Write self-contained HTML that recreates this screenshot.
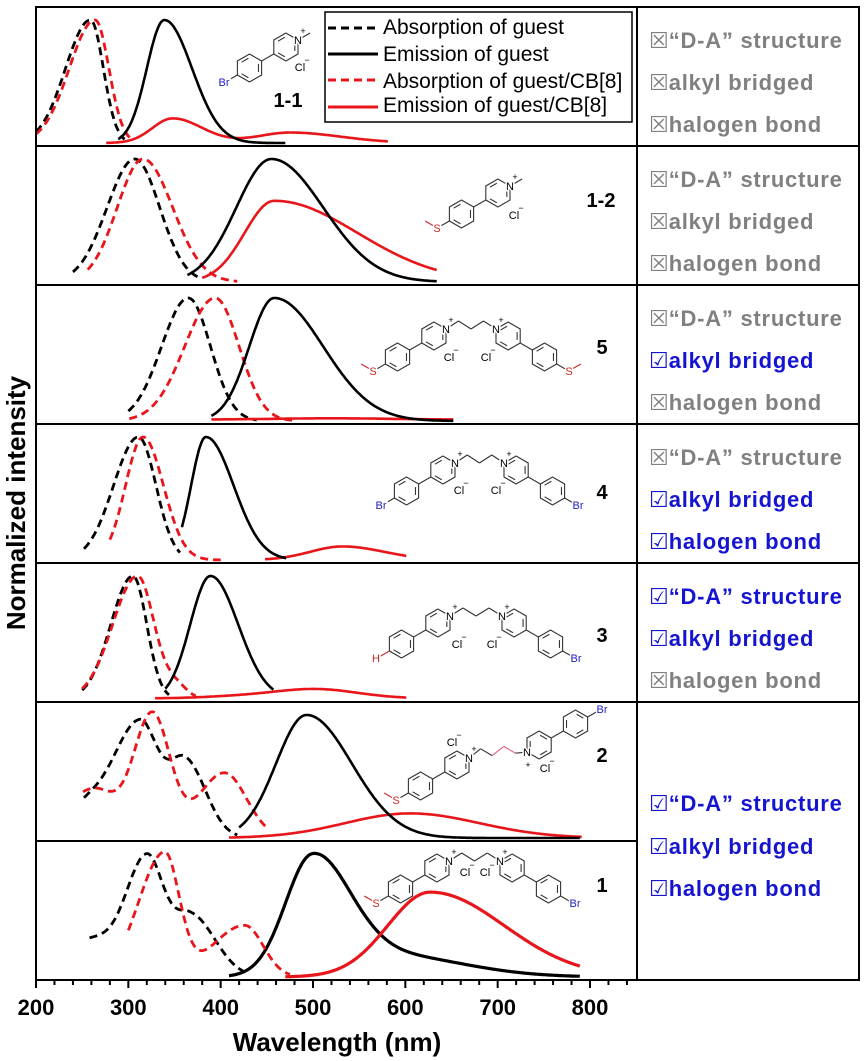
<!DOCTYPE html>
<html><head><meta charset="utf-8">
<style>
html,body{margin:0;padding:0;background:#fff;}
svg{display:block;}
.tk{font-family:"Liberation Sans",sans-serif;font-weight:bold;font-size:22px;text-anchor:middle;fill:#000;}
.lg{font-family:"Liberation Sans",sans-serif;font-size:21px;fill:#000;}
.t{font-family:"Liberation Sans",sans-serif;font-weight:bold;font-size:22px;letter-spacing:0.75px;}
.gr{fill:#808080;}
.bl{fill:#1414d2;}
.bx{font-family:"DejaVu Sans",sans-serif;font-weight:normal;font-size:22px;letter-spacing:0;}
.num{font-family:"Liberation Sans",sans-serif;font-weight:bold;font-size:20px;text-anchor:middle;fill:#000;}
.at{font-family:"Liberation Sans",sans-serif;font-size:11px;text-anchor:middle;stroke:#fff;stroke-width:3px;paint-order:stroke;}
.sp{font-family:"Liberation Sans",sans-serif;font-size:9px;text-anchor:middle;fill:#000;}
</style></head>
<body>
<svg width="866" height="1061" viewBox="0 0 866 1061" xmlns="http://www.w3.org/2000/svg">
<rect width="866" height="1061" fill="#fff"/>
<g id="curves"></g>
<g id="mols"></g>

<!-- frame -->
<g stroke="#000" stroke-width="2" fill="none">
<path d="M36,7H859V980H36Z"/>
<path d="M637,7V980"/>
<path d="M36,146H859M36,285H859M36,424H859M36,563H859M36,702H859M36,841H637"/>
</g>
<g id="ticks" stroke="#000" stroke-width="2"></g>

<!-- tick labels -->
<text class="tk" x="36" y="1015">200</text>
<text class="tk" x="128.3" y="1015">300</text>
<text class="tk" x="220.7" y="1015">400</text>
<text class="tk" x="313" y="1015">500</text>
<text class="tk" x="405.3" y="1015">600</text>
<text class="tk" x="497.7" y="1015">700</text>
<text class="tk" x="590" y="1015">800</text>
<text x="337" y="1051" font-family="Liberation Sans, sans-serif" font-weight="bold" font-size="26" text-anchor="middle">Wavelength (nm)</text>
<text transform="translate(25,503) rotate(-90)" font-family="Liberation Sans, sans-serif" font-weight="bold" font-size="26" text-anchor="middle">Normalized intensity</text>

<!-- legend -->
<rect x="325" y="12" width="307" height="110" fill="#fff" stroke="#000" stroke-width="1.5"/>
<g stroke-width="3" fill="none">
<path d="M328,28H378" stroke="#000" stroke-dasharray="8,5"/>
<path d="M328,54H378" stroke="#000"/>
<path d="M328,80H378" stroke="#e8151b" stroke-dasharray="8,5"/>
<path d="M328,107H378" stroke="#e8151b"/>
</g>
<text class="lg" x="383" y="34">Absorption of guest</text>
<text class="lg" x="383" y="61">Emission of guest</text>
<text class="lg" x="383" y="88">Absorption of guest/CB[8]</text>
<text class="lg" x="383" y="112">Emission of guest/CB[8]</text>

<!-- compound numbers -->
<text class="num" x="288" y="107">1-1</text>
<text class="num" x="601" y="207">1-2</text>
<text class="num" x="602" y="354">5</text>
<text class="num" x="602" y="499">4</text>
<text class="num" x="602" y="642">3</text>
<text class="num" x="602" y="762">2</text>
<text class="num" x="602" y="892">1</text>

<!-- atom labels -->
<g>
<!-- 1-1 -->
<text class="at" x="224" y="86" fill="#2020c0">Br</text>
<text class="at" x="298" y="44" fill="#000">N</text><text class="sp" x="303" y="34">+</text>
<text class="at" x="300" y="71" fill="#000">Cl</text><text class="sp" x="307" y="63">−</text>
<!-- 1-2 -->
<text class="at" x="437" y="232" fill="#d02828">S</text>
<text class="at" x="510" y="190" fill="#000">N</text><text class="sp" x="515" y="180">+</text>
<text class="at" x="514" y="219" fill="#000">Cl</text><text class="sp" x="521" y="211">−</text>
<!-- 5 -->
<text class="at" x="373" y="375" fill="#d02828">S</text>
<text class="at" x="569" y="375" fill="#d02828">S</text>
<text class="at" x="446" y="333" fill="#000">N</text><text class="sp" x="451" y="323">+</text>
<text class="at" x="496" y="333" fill="#000">N</text><text class="sp" x="501" y="323">+</text>
<text class="at" x="449" y="361" fill="#000">Cl</text><text class="sp" x="456" y="353">−</text>
<text class="at" x="486" y="361" fill="#000">Cl</text><text class="sp" x="493" y="353">−</text>
<!-- 4 -->
<text class="at" x="381" y="509" fill="#2020c0">Br</text>
<text class="at" x="578" y="509" fill="#2020c0">Br</text>
<text class="at" x="455" y="467" fill="#000">N</text><text class="sp" x="460" y="457">+</text>
<text class="at" x="504" y="467" fill="#000">N</text><text class="sp" x="509" y="457">+</text>
<text class="at" x="459" y="494" fill="#000">Cl</text><text class="sp" x="466" y="486">−</text>
<text class="at" x="496" y="494" fill="#000">Cl</text><text class="sp" x="503" y="486">−</text>
<!-- 3 -->
<text class="at" x="376" y="662" fill="#d02828">H</text>
<text class="at" x="576" y="662" fill="#2020c0">Br</text>
<text class="at" x="450" y="620" fill="#000">N</text><text class="sp" x="455" y="610">+</text>
<text class="at" x="502" y="620" fill="#000">N</text><text class="sp" x="507" y="610">+</text>
<text class="at" x="457" y="648" fill="#000">Cl</text><text class="sp" x="464" y="640">−</text>
<text class="at" x="492" y="648" fill="#000">Cl</text><text class="sp" x="499" y="640">−</text>
<!-- 2 -->
<text class="at" x="396" y="804" fill="#d02828">S</text>
<text class="at" x="602" y="713" fill="#2020c0">Br</text>
<text class="at" x="469" y="762" fill="#000">N</text><text class="sp" x="474" y="752">+</text>
<text class="at" x="527" y="756" fill="#000">N</text><text class="sp" x="528" y="768">+</text>
<text class="at" x="452" y="746" fill="#000">Cl</text><text class="sp" x="459" y="738">−</text>
<text class="at" x="545" y="772" fill="#000">Cl</text><text class="sp" x="552" y="764">−</text>
<!-- 1 -->
<text class="at" x="376" y="907" fill="#d02828">S</text>
<text class="at" x="575" y="907" fill="#2020c0">Br</text>
<text class="at" x="449" y="865" fill="#000">N</text><text class="sp" x="454" y="855">+</text>
<text class="at" x="500" y="865" fill="#000">N</text><text class="sp" x="505" y="855">+</text>
<text class="at" x="465" y="876" fill="#000">Cl</text><text class="sp" x="472" y="868">−</text>
<text class="at" x="485" y="876" fill="#000">Cl</text><text class="sp" x="492" y="868">−</text>
</g>

<!-- table text -->
<text class="t gr" x="649" y="48"><tspan class="bx">☒</tspan>“D-A” structure</text>
<text class="t gr" x="649" y="90"><tspan class="bx">☒</tspan>alkyl bridged</text>
<text class="t gr" x="649" y="132"><tspan class="bx">☒</tspan>halogen bond</text>

<text class="t gr" x="649" y="187"><tspan class="bx">☒</tspan>“D-A” structure</text>
<text class="t gr" x="649" y="229"><tspan class="bx">☒</tspan>alkyl bridged</text>
<text class="t gr" x="649" y="271"><tspan class="bx">☒</tspan>halogen bond</text>

<text class="t gr" x="649" y="326"><tspan class="bx">☒</tspan>“D-A” structure</text>
<text class="t bl" x="649" y="368"><tspan class="bx">☑</tspan>alkyl bridged</text>
<text class="t gr" x="649" y="410"><tspan class="bx">☒</tspan>halogen bond</text>

<text class="t gr" x="649" y="465"><tspan class="bx">☒</tspan>“D-A” structure</text>
<text class="t bl" x="649" y="507"><tspan class="bx">☑</tspan>alkyl bridged</text>
<text class="t bl" x="649" y="549"><tspan class="bx">☑</tspan>halogen bond</text>

<text class="t bl" x="649" y="604"><tspan class="bx">☑</tspan>“D-A” structure</text>
<text class="t bl" x="649" y="646"><tspan class="bx">☑</tspan>alkyl bridged</text>
<text class="t gr" x="649" y="688"><tspan class="bx">☒</tspan>halogen bond</text>

<text class="t bl" x="649" y="811"><tspan class="bx">☑</tspan>“D-A” structure</text>
<text class="t bl" x="649" y="854"><tspan class="bx">☑</tspan>alkyl bridged</text>
<text class="t bl" x="649" y="896"><tspan class="bx">☑</tspan>halogen bond</text>
</svg>

<script>
(function(){
var NS='http://www.w3.org/2000/svg';
function X(nm){return 36+(nm-200)*0.92333;}
function g(x,m,sl,sr){var s=x<m?sl:sr;return Math.exp(-(x-m)*(x-m)/(2*s*s));}
function el(tag,attrs,parent){var e=document.createElementNS(NS,tag);for(var k in attrs)e.setAttribute(k,attrs[k]);parent.appendChild(e);return e;}
var C=document.getElementById('curves');
var RED='#e8151b';
function plot(panel,f,a,b,col,dashed,sw){
  var T=7+139*panel, yb=T+136, h=123, d='';
  for(var x=a;x<=b+0.001;x+=1){var y=yb-f(x)*h;d+=(d?'L':'M')+X(x).toFixed(1)+','+y.toFixed(1);}
  var at={d:d,fill:'none',stroke:col=='r'?RED:'#000','stroke-width':sw||(dashed?2.8:2.6),'stroke-linejoin':'round'};
  if(dashed)at['stroke-dasharray']='8,5';
  el('path',at,C);
}
var P=[
 [0,function(x){return g(x,259,27,14);},200,296,'k',1],
 [0,function(x){return g(x,264,28,15);},200,303,'r',1],
 [0,function(x){return 0.2*g(x,348,22,32)+0.085*g(x,475,35,55);},276,581,'r',0],
 [0,function(x){return g(x,339,19,30);},289,470,'k',0],
 [1,function(x){return g(x,307,30,27);},240,378,'k',1],
 [1,function(x){return g(x,316,28,32);},256,418,'r',1],
 [1,function(x){return 0.66*g(x,458,32,90);},380,634,'r',0],
 [1,function(x){return g(x,455,38,56);},364,634,'k',0],
 [2,function(x){return g(x,365,29,24);},300,439,'k',1],
 [2,function(x){return g(x,394,33,26);},301,479,'r',1],
 [2,function(x){return 0.012+0.01*g(x,520,60,60);},390,652,'r',0],
 [2,function(x){return g(x,458,27,53);},390,652,'k',0],
 [3,function(x){return g(x,311,27,19);},252,356,'k',1],
 [3,function(x){return g(x,316,19,22);},280,400,'r',1],
 [3,function(x){return 0.11*g(x,532,35,45);},448,601,'r',0],
 [3,function(x){return g(x,384,16,30);},358,471,'k',0],
 [4,function(x){return g(x,305,24,15);},250,344,'k',1],
 [4,function(x){return g(x,310,27,18)+0.1*g(x,352,12,12);},250,373,'r',1],
 [4,function(x){return 0.005+0.075*g(x,503,45,45)+0.015*g(x,420,40,40);},329,601,'r',0],
 [4,function(x){return g(x,389,22,30);},340,457,'k',0],
 [5,function(x){return 0.95*g(x,312,30,20)+0.2*g(x,250,40,20)+0.62*g(x,362,18,22);},252,418,'k',1],
 [5,function(x){return g(x,326,20,19)+0.4*g(x,262,30,25)+0.53*g(x,404,28,24);},251,450,'r',1],
 [5,function(x){return 0.2*g(x,605,70,75);},409,791,'r',0],
 [5,function(x){return g(x,493,33,49);},420,789,'k',0],
 [6,function(x){return 0.93*g(x,499,29,40)+0.18*g(x,580,60,80);},409,789,'k',0,3.2],
 [6,function(x){return 0.69*g(x,627,46,80);},470,789,'r',0,3.2],
 [6,function(x){return 0.94*g(x,320,22,18)+0.5*g(x,368,20,26)+0.3*g(x,258,30,30);},258,428,'k',1],
 [6,function(x){return g(x,339,28,16)+0.42*g(x,426,35,20);},300,475,'r',1]
];
for(var i=0;i<P.length;i++){var p=P[i];plot(p[0],p[1],p[2],p[3],p[4],p[5],p[6]);}

var TK=document.getElementById('ticks');
for(var nm=200;nm<=840;nm+=20){
  var major=(nm%100==0)&&nm<=800;
  el('line',{x1:X(nm),y1:980,x2:X(nm),y2:major?988:985},TK);
}

var M=document.getElementById('mols');
function L(x1,y1,x2,y2,c){el('line',{x1:x1,y1:y1,x2:x2,y2:y2,stroke:c||'#333','stroke-width':1.1},M);}
function ring(cx,cy,r,ang){
  var pts=[],s='';
  for(var k=0;k<6;k++){var t=(ang+k*60)*Math.PI/180;pts.push([cx+r*Math.cos(t),cy+r*Math.sin(t)]);s+=pts[k][0].toFixed(1)+','+pts[k][1].toFixed(1)+' ';}
  el('polygon',{points:s,fill:'none',stroke:'#333','stroke-width':1.1},M);
  [1,3,5].forEach(function(k){
    var a=pts[k],b=pts[(k+1)%6];
    var ax=cx+0.74*(a[0]-cx),ay=cy+0.74*(a[1]-cy),bx=cx+0.74*(b[0]-cx),by=cy+0.74*(b[1]-cy);
    var dx=bx-ax,dy=by-ay;
    L(ax+0.12*dx,ay+0.12*dy,bx-0.12*dx,by-0.12*dy);
  });
}
function arm(nx,ny,ang,sub){
  var a=ang*Math.PI/180,ux=Math.cos(a),uy=Math.sin(a);
  function Q(t){return [nx+ux*t,ny+uy*t];}
  ring(Q(14)[0],Q(14)[1],14,ang);
  L(Q(28)[0],Q(28)[1],Q(42)[0],Q(42)[1]);
  ring(Q(56)[0],Q(56)[1],14,ang);
  var sc=(sub=='H')?'#d02828':'#333';
  L(Q(70)[0],Q(70)[1],Q(84)[0],Q(84)[1],sc);
  if(sub=='S'){
    var sx=Q(84)[0],sy=Q(84)[1];
    var ma=(ang>90?ang+60:ang-60)*Math.PI/180;
    L(sx,sy,sx+14*Math.cos(ma),sy+14*Math.sin(ma),'#d02828');
  }
}
function methyl(nx,ny){var a=-30*Math.PI/180;L(nx,ny,nx+14*Math.cos(a),ny+14*Math.sin(a));}
function chain(x1,y1,x2,y2,n,cols){
  var pts=[];
  for(var i=0;i<=n;i++){var t=i/n,x=x1+(x2-x1)*t,y=y1+(y2-y1)*t;if(i>0&&i<n&&i%2==1)y-=8;pts.push([x,y]);}
  for(var j=0;j<n;j++)L(pts[j][0],pts[j][1],pts[j+1][0],pts[j+1][1],cols?cols[j]:'#333');
}
arm(298,40,150,'Br');methyl(298,40);
arm(510,186,150,'S');methyl(510,186);
arm(446,329,150,'S');arm(496,329,30,'S');chain(446,329,496,329,4);
arm(455,463,150,'Br');arm(504,463,30,'Br');chain(455,463,504,463,4);
arm(450,616,150,'H');arm(502,616,30,'Br');chain(450,616,502,616,4);
arm(469,758,150,'S');arm(527,752,-30,'Br');chain(469,758,527,752,5,['#333','#333','#e06080','#e06080','#333']);
arm(449,861,150,'S');arm(500,861,30,'Br');chain(449,861,500,861,4);
})();
</script>
</body></html>
